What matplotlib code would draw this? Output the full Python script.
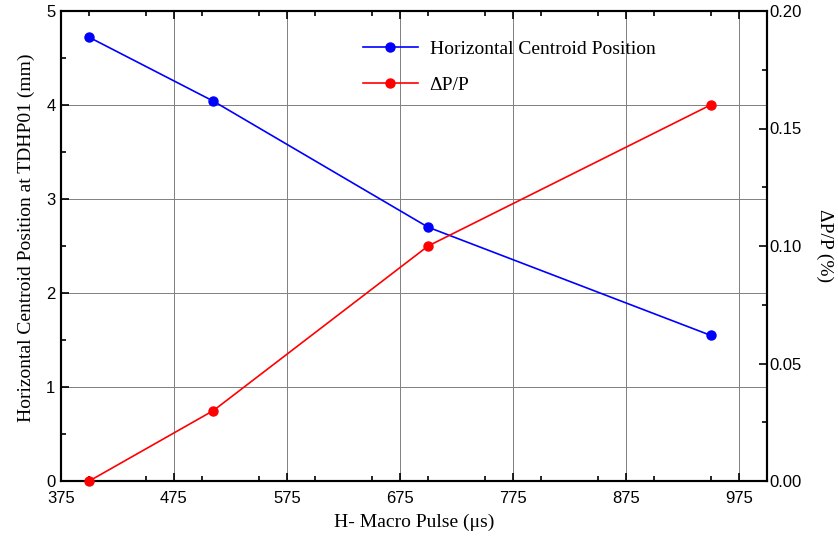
import matplotlib
matplotlib.use("Agg")
import matplotlib.pyplot as plt
from matplotlib.ticker import MultipleLocator

pulse_us = [400, 510, 700, 950]
centroid_mm = [4.72, 4.04, 2.70, 1.55]
dpp_pct = [0.0, 0.03, 0.10, 0.16]
x_ticks = [375, 475, 575, 675, 775, 875, 975]

fig = plt.figure(figsize=(8.38, 5.41), dpi=100)
ax = fig.add_axes([61/838, 1-481/541, (767-61)/838, (481-11)/541])
ax2 = ax.twinx()

sans = "Liberation Sans"
serif = "Liberation Serif"

l1, = ax.plot(pulse_us, centroid_mm, color="#0000ff", marker="o", markersize=6.5, lw=1.2,
              label="Horizontal Centroid Position", zorder=5)
l2, = ax2.plot(pulse_us, dpp_pct, color="#ff0000", marker="o", markersize=6.5, lw=1.2,
               label="ΔP/P", clip_on=False, zorder=5)

ax.set_xlim(375, 1000)
ax.set_ylim(0, 5)
ax2.set_ylim(0, 0.20)
ax.set_xticks(x_ticks)
ax.xaxis.set_minor_locator(MultipleLocator(50))
ax.yaxis.set_major_locator(MultipleLocator(1))
ax.yaxis.set_minor_locator(MultipleLocator(0.5))
ax2.yaxis.set_minor_locator(MultipleLocator(0.025))
ax2.set_yticks([0, 0.05, 0.10, 0.15, 0.20])
ax2.set_yticklabels(["0.00", "0.05", "0.10", "0.15", "0.20"])

ax.grid(True, which="major", color="#808080", lw=0.7)
ax.set_axisbelow(True)

ax.tick_params(axis="x", which="both", direction="in", top=True, bottom=True, pad=7)
ax.tick_params(axis="y", which="both", direction="in", left=True, right=False, pad=4)
ax2.tick_params(axis="y", which="both", direction="in", right=True, pad=2)
for a in (ax, ax2):
    a.tick_params(which="major", length=6, width=1.2, labelsize=12)
    a.tick_params(which="minor", length=3.5, width=1.2)
    for lab in a.get_xticklabels() + a.get_yticklabels():
        lab.set_family(sans)
    for s in a.spines.values():
        s.set_linewidth(1.5)

ax.set_xlabel("H- Macro Pulse (μs)", family=serif, fontsize=14)
ax.set_ylabel("Horizontal Centroid Position at TDHP01 (mm)", family=serif, fontsize=14)
ax2.set_ylabel("ΔP/P (%)", family=serif, fontsize=14, rotation=-90, va="center")
ax.xaxis.set_label_coords(0.5, (481-514)/470)
ax.yaxis.set_label_coords((35-61)/706, (481-238)/470)
ax2.yaxis.set_label_coords((825-61)/706, 0.5)

leg = ax.legend(handles=[l1, l2], loc="upper left", bbox_to_anchor=(0.408, 0.966),
                frameon=False, prop={"family": serif, "size": 14}, handlelength=2.85,
                labelspacing=0.95, handletextpad=0.6, borderaxespad=0.3)

fig.savefig("out.png", dpi=100)
